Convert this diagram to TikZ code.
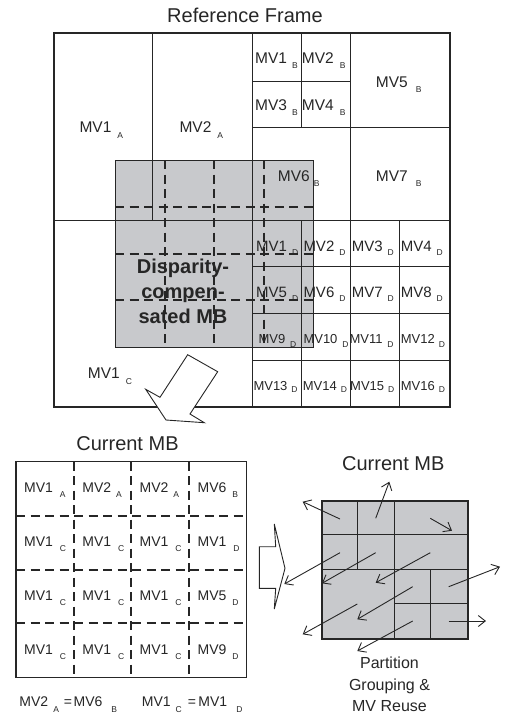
\documentclass[tikz,border=0pt]{standalone}
\usepackage{fontspec}
\setmainfont{Liberation Sans}
\usetikzlibrary{arrows.meta}
\definecolor{mbgray}{RGB}{200,201,204}
\definecolor{ink}{RGB}{38,38,38}
\newcommand\Sub[2][5pt]{\raisebox{-#1}{\fontsize{8.5}{8.5}\selectfont #2}}
\begin{document}
\begin{tikzpicture}[x=1pt,y=-1pt,
  gridline/.style={draw=ink,line width=0.9pt},
  border/.style={draw=ink,line width=1.5pt},
  dashline/.style={draw=ink,line width=2pt,dash pattern=on 9pt off 5.5pt},
  lbl/.style={anchor=base west,inner sep=0pt,text=ink,font=\fontsize{15.5}{16}\selectfont},
  lblD/.style={anchor=base west,inner sep=0pt,text=ink,font=\fontsize{15}{16}\selectfont},
  lblDD/.style={anchor=base west,inner sep=0pt,text=ink,font=\fontsize{13}{14}\selectfont},
  lblL/.style={anchor=base west,inner sep=0pt,text=ink,font=\fontsize{14}{15}\selectfont},
  ttl/.style={anchor=base,inner sep=0pt,text=ink,font=\fontsize{20}{22}\selectfont},
  mvarrow/.style={draw=ink,line width=0.9pt,-{Straight Barb[length=7pt,width=11pt]}},
  blockarrow/.style={draw=ink,fill=white,line width=0.9pt,line join=miter}
]
\useasboundingbox (0,0) rectangle (505,716);

% ================= Reference frame =================
\node[ttl] (reftitle) at (245,22.7) {Reference Frame};
\fill[mbgray] (115,160) rectangle (313,347);
% A blocks
\draw[gridline] (152.7,33) -- (152.7,220);
% quadrant lines
\draw[gridline] (252,33) -- (252,407);
\draw[gridline] (54,220) -- (450,220);
% B blocks
\draw[gridline] (301,33) -- (301,127);
\draw[gridline] (252,81) -- (350,81);
\draw[gridline] (350,33) -- (350,407);
\draw[gridline] (252,127) -- (450,127);
% D blocks
\draw[gridline] (301,220) -- (301,407);
\draw[gridline] (399,220) -- (399,407);
\draw[gridline] (252,266.75) -- (450,266.75);
\draw[gridline] (252,313.5) -- (450,313.5);
\draw[gridline] (252,360.25) -- (450,360.25);
\draw[border] (54,33) rectangle (450,407);
% disparity-compensated MB
\draw[gridline] (115,160) rectangle (313,347);
\draw[dashline] (164.5,160) -- (164.5,347);
\draw[dashline] (214,160) -- (214,347);
\draw[dashline] (263.5,160) -- (263.5,347);
\draw[dashline] (115,206.75) -- (313,206.75);
\draw[dashline] (115,253.5) -- (313,253.5);
\draw[dashline] (115,300.25) -- (313,300.25);

% labels A, B, C
\node[lbl] (a1) at (79.3,132.7) {MV1\kern6pt\Sub[5.5pt]{A}};
\node[lbl] (a2) at (179.3,132.7) {MV2\kern6pt\Sub[5.5pt]{A}};
\node[lbl] (b1) at (255,63.3) {MV1\kern5pt\Sub{B}};
\node[lbl] (b2) at (301.7,63.3) {MV2\kern6pt\Sub{B}};
\node[lbl] (b3) at (255,110) {MV3\kern5pt\Sub{B}};
\node[lbl] (b4) at (301.7,110) {MV4\kern6pt\Sub{B}};
\node[lbl] (b5) at (375.7,87.3) {MV5\kern8pt\Sub{B}};
\node[lbl] (b6) at (277.7,181.7) {MV6\kern4pt\Sub{B}};
\node[lbl] (b7) at (375.7,181.7) {MV7\kern8pt\Sub{B}};
\node[lbl] (c1) at (87.7,378.3) {MV1\kern6pt\Sub[6pt]{C}};
% labels D
\node[lblD] (d1) at (256,251) {MV1\kern5pt\Sub[4pt]{D}};
\node[lblD] (d2) at (303.3,251) {MV2\kern5pt\Sub[4pt]{D}};
\node[lblD] (d3) at (351.7,251) {MV3\kern5pt\Sub[4pt]{D}};
\node[lblD] (d4) at (400.7,251) {MV4\kern5pt\Sub[4pt]{D}};
\node[lblD] (d5) at (256,297.7) {MV5\kern5pt\Sub[4pt]{D}};
\node[lblD] (d6) at (303.3,297.7) {MV6\kern5pt\Sub[4pt]{D}};
\node[lblD] (d7) at (351.7,297.7) {MV7\kern5pt\Sub[4pt]{D}};
\node[lblD] (d8) at (400.7,297.7) {MV8\kern5pt\Sub[4pt]{D}};
\node[lblDD] (d9) at (258.3,343.3) {MV9\kern5pt\Sub[4pt]{D}};
\node[lblDD] (d10) at (303.3,343.3) {MV10\kern5pt\Sub[4pt]{D}};
\node[lblDD] (d11) at (349.3,343.3) {MV11\kern5pt\Sub[4pt]{D}};
\node[lblDD] (d12) at (400.7,343.3) {MV12\kern4pt\Sub[4pt]{D}};
\node[lblDD] (d13) at (253.3,390) {MV13\kern4pt\Sub[2pt]{D}};
\node[lblDD] (d14) at (302.7,390) {MV14\kern4pt\Sub[2pt]{D}};
\node[lblDD] (d15) at (350,390) {MV15\kern4pt\Sub[2pt]{D}};
\node[lblDD] (d16) at (400.7,390) {MV16\kern4pt\Sub[2pt]{D}};

% multi-line node: base anchor = baseline of the last line
\node[anchor=base,inner sep=0pt,text=ink,align=center,
      font=\fontsize{20}{25}\selectfont\bfseries] (dmb) at (183,323.3)
      {Disparity-\\compen-\\sated MB};

% down-left block arrow
\draw[blockarrow] (187.7,354.7) -- (217.7,371.7) -- (190,414) -- (204.3,422.7)
  -- (166,420) -- (145.7,389.3) -- (160,397.3) -- cycle;

% ================= Current MB (left) =================
\node[ttl] (curL) at (127.5,450.7) {Current MB};
\draw[dashline] (73.7,461.7) -- (73.7,677.3);
\draw[dashline] (131.3,461.7) -- (131.3,677.3);
\draw[dashline] (189,461.7) -- (189,677.3);
\draw[dashline] (16,515.6) -- (246.7,515.6);
\draw[dashline] (16,569.5) -- (246.7,569.5);
\draw[dashline] (16,623.4) -- (246.7,623.4);
\draw[border] (16,461.7) rectangle (246.7,677.3);

\foreach \r/\y in {1/492.7,2/546.6,3/600.5,4/654.4}{
  \foreach \c/\x in {1/24,2/82.2,3/139.5,4/197.5}{
    \coordinate (p\r\c) at (\x,\y);
  }
}
\node[lblL] (l11) at (p11) {MV1\kern7pt\Sub{A}};
\node[lblL] (l12) at (p12) {MV2\kern5pt\Sub{A}};
\node[lblL] (l13) at (p13) {MV2\kern5pt\Sub{A}};
\node[lblL] (l14) at (p14) {MV6\kern6pt\Sub{B}};
\node[lblL] (l21) at (p21) {MV1\kern7pt\Sub{C}};
\node[lblL] (l22) at (p22) {MV1\kern7pt\Sub{C}};
\node[lblL] (l23) at (p23) {MV1\kern7pt\Sub{C}};
\node[lblL] (l24) at (p24) {MV1\kern7pt\Sub{D}};
\node[lblL] (l31) at (p31) {MV1\kern7pt\Sub{C}};
\node[lblL] (l32) at (p32) {MV1\kern7pt\Sub{C}};
\node[lblL] (l33) at (p33) {MV1\kern7pt\Sub{C}};
\node[lblL] (l34) at (p34) {MV5\kern6pt\Sub{D}};
\node[lblL] (l41) at (p41) {MV1\kern7pt\Sub{C}};
\node[lblL] (l42) at (p42) {MV1\kern7pt\Sub{C}};
\node[lblL] (l43) at (p43) {MV1\kern7pt\Sub{C}};
\node[lblL] (l44) at (p44) {MV9\kern6pt\Sub{D}};

\node[lblL] (eq1) at (19.3,706.7) {MV2\kern5pt\Sub[5.5pt]{A}\kern5pt=\kern1.5ptMV6\kern9pt\Sub[5.5pt]{B}};
\node[lblL] (eq2) at (141.7,706.7) {MV1\kern5pt\Sub[5.5pt]{C}\kern6pt=\kern2.5ptMV1\kern9pt\Sub[5.5pt]{D}};

% right-pointing block arrow
\draw[blockarrow] (259.3,546.7) -- (275.7,546.7) -- (274.3,524) -- (285,568.3)
  -- (274.3,609) -- (275.7,588.3) -- (259.3,588.3) -- cycle;

% ================= Current MB (right) =================
\node[ttl] (curR) at (393.3,470.7) {Current MB};
\fill[mbgray] (322,500.7) rectangle (468.3,639);
\draw[gridline] (357.3,500.7) -- (357.3,569);
\draw[gridline] (394.7,500.7) -- (394.7,639);
\draw[gridline] (430.3,569) -- (430.3,639);
\draw[gridline] (322,534.3) -- (468.3,534.3);
\draw[gridline] (322,569) -- (468.3,569);
\draw[gridline] (394.7,603.3) -- (468.3,603.3);
\draw[draw=ink,line width=1.8pt] (322,500.7) rectangle (468.3,639);

\foreach \i/\sx/\sy/\ex/\ey in {
  1/340/519/302.7/501.7,
  2/375.7/518.3/389.3/481.7,
  3/430.3/518.3/452/530.7,
  4/340/552.7/284.3/584,
  5/375.7/552.7/322/583.3,
  6/430.3/552.7/375.7/582.7,
  7/448.7/586.7/500/566.7,
  8/412.7/586.7/357.3/619.3,
  9/357.3/604/302.7/634.3,
  10/448.7/621/486/621,
  11/412.7/621/357.3/651}{
  \coordinate (s\i) at (\sx,\sy);
  \coordinate (e\i) at (\ex,\ey);
  \draw[mvarrow] (s\i) -- (e\i);
}

\node[anchor=base,inner sep=0pt,text=ink,align=center,
      font=\fontsize{16}{21.7}\selectfont] (pgmv) at (389.5,711.7)
      {Partition\\Grouping \&\\MV Reuse};
\end{tikzpicture}
\end{document}
